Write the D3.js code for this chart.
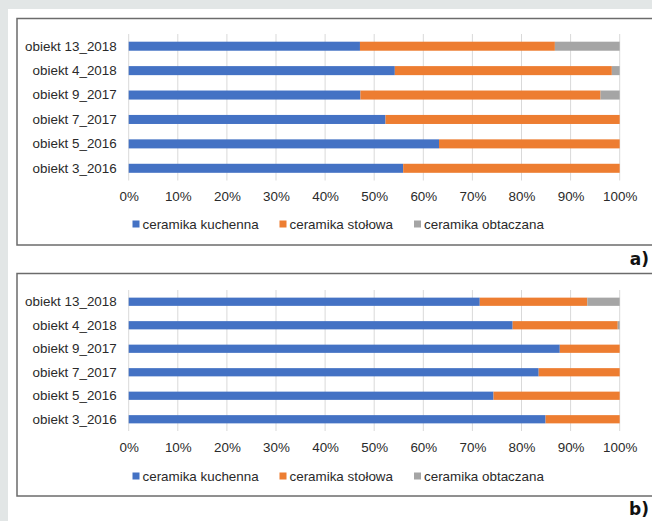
<!DOCTYPE html>
<html lang="pl">
<head>
<meta charset="utf-8">
<title>Ceramika - udzial</title>
<script src="https://d3js.org/d3.v7.min.js"></script>
<style>
body { margin: 0; background: #e2e6e6; }
svg { display: block; }
.tick text { font-family: "Liberation Sans", Arial, sans-serif; font-size: 13.4px; fill: #2a2a2a; }
.grid line { stroke: #d9d9d9; stroke-width: 1; }
.legend text { font-family: "Liberation Sans", Arial, sans-serif; font-size: 13.4px; fill: #2a2a2a; }
.panel-label { font-family: "DejaVu Sans", sans-serif; font-weight: bold; font-size: 17px; fill: #111; }
</style>
</head>
<body>
<script>

var categories = ["obiekt 13_2018", "obiekt 4_2018", "obiekt 9_2017", "obiekt 7_2017", "obiekt 5_2016", "obiekt 3_2016"];
var seriesNames = ["ceramika kuchenna", "ceramika stołowa", "ceramika obtaczana"];
var colors = ["#4472c4", "#ed7d31", "#a5a5a5"];
var ticks = [0, 0.1, 0.2, 0.3, 0.4, 0.5, 0.6, 0.7, 0.8, 0.9, 1];

// panel a)
var kuchennaA  = [47.1, 54.2, 47.2, 52.3, 63.2, 55.9];
var stolowaA   = [39.7, 44.2, 48.9, 47.7, 36.8, 44.1];
var obtaczanaA = [13.2, 1.6, 3.9, 0, 0, 0];

// panel b)
var kuchennaB  = [71.5, 78.2, 87.8, 83.5, 74.3, 84.9];
var stolowaB   = [21.9, 21.4, 12.2, 16.5, 25.7, 15.1];
var obtaczanaB = [6.6, 0.4, 0, 0, 0, 0];

var W = 652, H = 521;

var svg = d3.select("body").append("svg")
    .attr("width", W)
    .attr("height", H);

// white page area
svg.append("rect")
    .attr("x", 8).attr("y", 9)
    .attr("width", W - 8).attr("height", H - 9)
    .attr("fill", "#fff");

function table(k, s, o) {
    return categories.map(function(c, i) {
        return { cat: c, k: k[i], s: s[i], o: o[i] };
    });
}

var x = d3.scaleLinear().domain([0, 1]).range([128.7, 619.7]);

function panel(opts) {
    var rows = table(opts.k, opts.s, opts.o);
    var g = svg.append("g");

    // frame (runs off the right edge like the source)
    g.append("rect")
        .attr("x", 17).attr("y", opts.boxTop)
        .attr("width", W + 10).attr("height", opts.boxBottom - opts.boxTop)
        .attr("fill", "none")
        .attr("stroke", "#6b6b6b")
        .attr("stroke-width", 1.5);

    var y = d3.scaleBand()
        .domain(categories)
        .range([opts.top, opts.bottom])
        .paddingInner(opts.pad)
        .paddingOuter(opts.pad / 2);

    g.append("g")
        .attr("class", "grid")
        .selectAll("line")
        .data(ticks)
        .join("line")
            .attr("x1", function(d) { return x(d); })
            .attr("x2", function(d) { return x(d); })
            .attr("y1", opts.top)
            .attr("y2", opts.bottom);

    var stack = d3.stack().keys(["k", "s", "o"]);
    var layers = stack(rows);

    g.append("g").selectAll("g")
        .data(layers)
        .join("g")
            .attr("fill", function(d, i) { return colors[i]; })
        .selectAll("rect")
        .data(function(d) { return d; })
        .join("rect")
            .attr("x", function(d) { return x(d[0] / 100); })
            .attr("width", function(d) { return x(d[1] / 100) - x(d[0] / 100); })
            .attr("y", function(d) { return y(d.data.cat); })
            .attr("height", y.bandwidth());

    var yAxis = g.append("g")
        .attr("transform", "translate(" + x(0) + ",0)")
        .call(d3.axisLeft(y).tickSize(0).tickPadding(12));
    yAxis.select(".domain").remove();

    var xAxis = g.append("g")
        .attr("transform", "translate(0," + opts.tickY + ")")
        .call(d3.axisBottom(x).tickValues(ticks).tickFormat(d3.format(".0%")).tickSize(0).tickPadding(0));
    xAxis.select(".domain").remove();
    xAxis.selectAll("text").attr("dy", "0.32em");

    var legendX = [132.5, 279.5, 414];
    var leg = g.append("g")
        .attr("class", "legend")
        .selectAll("g")
        .data(seriesNames)
        .join("g")
            .attr("transform", function(d, i) { return "translate(" + legendX[i] + "," + opts.legendY + ")"; });
    leg.append("rect")
        .attr("x", 0).attr("y", -3.5)
        .attr("width", 7).attr("height", 7)
        .attr("fill", function(d, i) { return colors[i]; });
    leg.append("text")
        .attr("x", 10)
        .attr("dy", "0.35em")
        .text(function(d) { return d; });

    svg.append("text")
        .attr("class", "panel-label")
        .attr("x", 649)
        .attr("y", opts.labelY)
        .attr("text-anchor", "end")
        .text(opts.label);
}

panel({ k: kuchennaA, s: stolowaA, o: obtaczanaA,
        boxTop: 18.5, boxBottom: 245, top: 34, bottom: 180.5, pad: 0.63,
        tickY: 197, legendY: 224, label: "a)", labelY: 265 });

panel({ k: kuchennaB, s: stolowaB, o: obtaczanaB,
        boxTop: 273.5, boxBottom: 496, top: 290, bottom: 431, pad: 0.65,
        tickY: 448, legendY: 476, label: "b)", labelY: 515 });

</script>
</body>
</html>
